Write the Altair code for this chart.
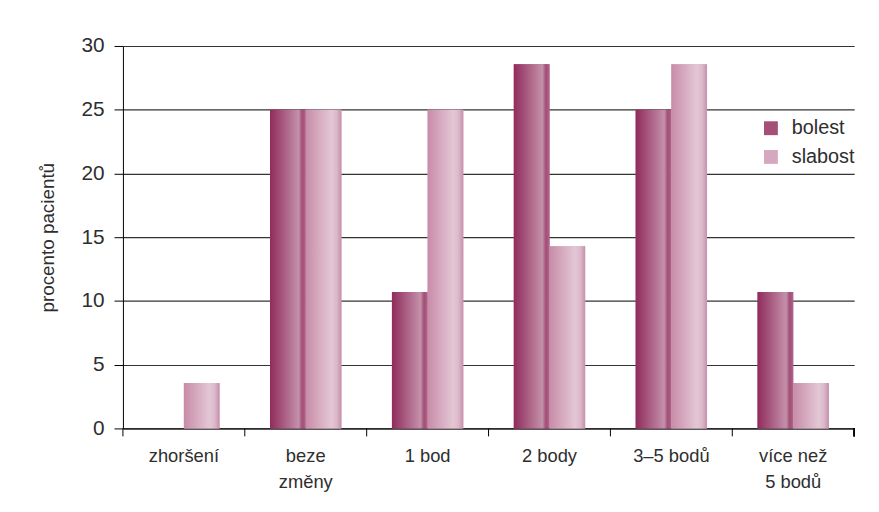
import altair as alt
import pandas as pd

categories = ["zhoršení", "beze změny", "1 bod", "2 body", "3–5 bodů", "více než 5 bodů"]
category_lines = {"beze změny": ["beze", "změny"], "více než 5 bodů": ["více než", "5 bodů"]}
series = ["bolest", "slabost"]
bolest = [0, 25, 10.71, 28.57, 25, 10.71]
slabost = [3.57, 25, 25, 14.29, 28.57, 3.57]
y_ticks = [0, 5, 10, 15, 20, 25, 30]

rows = []
for c, b, s in zip(categories, bolest, slabost):
    rows.append({"category": c, "series": "bolest", "value": b})
    rows.append({"category": c, "series": "slabost", "value": s})
df = pd.DataFrame(rows)
ticks_df = pd.DataFrame({"category": categories})

expr = "datum.label"
for k, v in category_lines.items():
    expr = f"datum.label == '{k}' ? {v} : ({expr})"

W, H = 738, 386
FONT = "Liberation Sans"
TXT = "#2e2e2e"

x_enc = alt.X(
    "category:N", sort=categories,
    scale=alt.Scale(paddingInner=0, paddingOuter=0),
    axis=alt.Axis(title=None, ticks=False, labelAngle=0, labelFontSize=18.5,
                  labelPadding=18, labelBaseline="top", labelLineHeight=27,
                  labelExpr=expr, domainColor="#000", labelColor=TXT,
                  labelFont=FONT),
)
xo_enc = alt.XOffset("series:N", scale=alt.Scale(domain=series, paddingOuter=0.708, paddingInner=0))
y_enc = alt.Y(
    "value:Q",
    scale=alt.Scale(domain=[0, 30], nice=False),
    axis=alt.Axis(title="procento pacientů", values=y_ticks, grid=True, gridColor="#333",
                  gridWidth=1.2, domainColor="#000", tickColor="#000", tickSize=9,
                  labelFontSize=21, labelPadding=10, labelColor=TXT,
                  titleFontSize=19, titleFontWeight="normal", titleColor=TXT,
                  titlePadding=24, labelFont=FONT, titleFont=FONT),
)

solid = alt.Chart(df).mark_bar().encode(
    x=x_enc, xOffset=xo_enc, y=y_enc,
    color=alt.Color("series:N", scale=alt.Scale(domain=series, range=["#a54e78", "#d6a8bf"]),
                    legend=alt.Legend(title=None, orient="none", legendX=644, legendY=73,
                                      symbolType="square", symbolSize=196, symbolStrokeWidth=0,
                                      labelFontSize=20, labelColor=TXT, rowPadding=9,
                                      labelOffset=11, padding=0, labelFont=FONT)),
)

grad_b = alt.Gradient(
    gradient="linear", x1=0, x2=1, y1=0, y2=0,
    stops=[alt.GradientStop(color="#902b5b", offset=0),
           alt.GradientStop(color="#bd84a0", offset=0.7),
           alt.GradientStop(color="#c391aa", offset=0.8),
           alt.GradientStop(color="#a24d76", offset=0.9),
           alt.GradientStop(color="#b0668a", offset=1)],
)
grad_s = alt.Gradient(
    gradient="linear", x1=0, x2=1, y1=0, y2=0,
    stops=[alt.GradientStop(color="#c88ca8", offset=0),
           alt.GradientStop(color="#e3c7d5", offset=0.72),
           alt.GradientStop(color="#ddb9cb", offset=0.86),
           alt.GradientStop(color="#c590aa", offset=1)],
)

bars_b = alt.Chart(df).transform_filter(alt.datum.series == "bolest").mark_bar(fill=grad_b).encode(
    x=x_enc, xOffset=xo_enc, y=y_enc)
bars_s = alt.Chart(df).transform_filter(alt.datum.series == "slabost").mark_bar(fill=grad_s).encode(
    x=x_enc, xOffset=xo_enc, y=y_enc)

tick_rules = alt.Chart(ticks_df).mark_rule(color="#000", strokeWidth=1).encode(
    x=alt.X("category:N", sort=categories, bandPosition=0),
    y=alt.value(H), y2=alt.value(H + 8),
)
end_rule = alt.Chart(ticks_df).mark_rule(color="#000", strokeWidth=1).encode(
    x=alt.value(W), y=alt.value(H), y2=alt.value(H + 8),
)

chart = alt.layer(solid, bars_b, bars_s, tick_rules, end_rule).properties(
    width=W, height=H,
    autosize=alt.AutoSizeParams(type="none"),
    padding={"left": 116, "top": 36, "right": 17, "bottom": 82},
    background="white",
).configure_view(stroke=None)

chart.save("out.html", embed_options={"renderer": "svg", "actions": False})
